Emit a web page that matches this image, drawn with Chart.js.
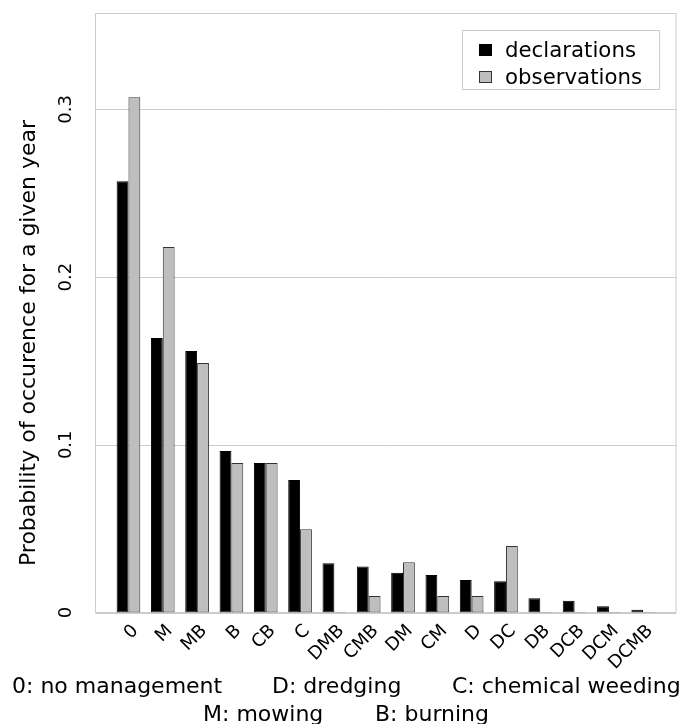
<!DOCTYPE html>
<html>
<head>
<meta charset="utf-8">
<script src="https://cdn.jsdelivr.net/npm/chart.js@4.4.1/dist/chart.umd.min.js"></script>
<style>
html, body { margin: 0; padding: 0; background: #fff; }
</style>
</head>
<body>
<canvas id="myChart" width="682" height="724"></canvas>
<script>
const categories = ['0', 'M', 'MB', 'B', 'CB', 'C', 'DMB', 'CMB', 'DM', 'CM', 'D', 'DC', 'DB', 'DCB', 'DCM', 'DCMB'];
const declarations = [0.2571, 0.1637, 0.1559, 0.0963, 0.0892, 0.0790, 0.0293, 0.0275, 0.0237, 0.0224, 0.0194, 0.0186, 0.0085, 0.0070, 0.0037, 0.0017];
const observations = [0.3072, 0.2180, 0.1488, 0.0892, 0.0892, 0.0496, 0.0003, 0.0098, 0.0299, 0.0098, 0.0098, 0.0397, 0.0003, 0.0003, 0.0003, 0.0003];
const seriesNames = ['declarations', 'observations'];
const yTicks = [0, 0.1, 0.2, 0.3];
const yTickLabels = ['0', '0.1', '0.2', '0.3'];
const yTitle = 'Probability of occurence for a given year';
const captionLine1 = ['0: no management', 'D: dredging', 'C: chemical weeding'];
const captionLine2 = ['M: mowing', 'B: burning'];

const FONT = 'DejaVu Sans';

// frame + horizontal grid behind the bars
const framePlugin = {
    id: 'frame',
    beforeDatasetsDraw(chart) {
        const ctx = chart.ctx;
        const y = chart.scales.y;
        const L = 95.5, R = 676, T = 13.5, B = 612.5;
        ctx.save();
        ctx.strokeStyle = '#cccccc';
        ctx.lineWidth = 1;
        yTicks.forEach(v => {
            const py = Math.round(y.getPixelForValue(v)) + 0.5;
            ctx.beginPath();
            ctx.moveTo(L, py);
            ctx.lineTo(R, py);
            ctx.stroke();
        });
        ctx.strokeRect(L, T, R - L, B - T);
        ctx.restore();
    },
    afterDraw(chart) {
        const ctx = chart.ctx;
        const y = chart.scales.y;
        ctx.save();
        ctx.fillStyle = '#000';

        // rotated y tick labels
        ctx.font = '18px "' + FONT + '"';
        ctx.textAlign = 'center';
        ctx.textBaseline = 'middle';
        yTicks.forEach((v, i) => {
            ctx.save();
            ctx.translate(66, y.getPixelForValue(v));
            ctx.rotate(-Math.PI / 2);
            ctx.fillText(yTickLabels[i], 0, 0);
            ctx.restore();
        });

        // y title
        ctx.font = '22px "' + FONT + '"';
        ctx.save();
        ctx.translate(29, 343);
        ctx.rotate(-Math.PI / 2);
        ctx.fillText(yTitle, 0, 0);
        ctx.restore();

        // legend
        const lx = 462.5, ly = 30.5, lw = 197, lh = 59;
        ctx.fillStyle = '#fff';
        ctx.fillRect(lx, ly, lw, lh);
        ctx.strokeStyle = '#cccccc';
        ctx.lineWidth = 1;
        ctx.strokeRect(lx, ly, lw, lh);
        ctx.font = '21.3px "' + FONT + '"';
        ctx.textAlign = 'left';
        chart.data.datasets.forEach((ds, i) => {
            const cy = 50 + i * 27;
            ctx.fillStyle = ds.backgroundColor;
            ctx.fillRect(479.5, cy - 5.5, 12, 11);
            ctx.strokeStyle = ds.borderColor;
            ctx.strokeRect(479.5, cy - 5.5, 12, 11);
            ctx.fillStyle = '#000';
            ctx.fillText(ds.label, 505, cy + 1);
        });

        // caption under the axis
        ctx.font = '22px "' + FONT + '"';
        ctx.textBaseline = 'alphabetic';
        const x1 = [12, 272, 452];
        captionLine1.forEach((t, i) => ctx.fillText(t, x1[i], 693));
        const x2 = [203, 375];
        captionLine2.forEach((t, i) => ctx.fillText(t, x2[i], 721));
        ctx.restore();
    }
};

const ctx = document.getElementById('myChart').getContext('2d');
const myChart = new Chart(ctx, {
    type: 'bar',
    data: {
        labels: categories,
        datasets: [{
            label: seriesNames[0],
            data: declarations,
            backgroundColor: '#000000',
            borderColor: '#000000',
            borderWidth: 1,
            borderSkipped: false
        }, {
            label: seriesNames[1],
            data: observations,
            backgroundColor: '#bebebe',
            borderColor: '#333333',
            borderWidth: 1,
            borderSkipped: false
        }]
    },
    options: {
        responsive: false,
        animation: false,
        layout: {
            padding: { left: 111.3, right: 21.6, top: 13, bottom: 0 }
        },
        datasets: {
            bar: { categoryPercentage: 0.69, barPercentage: 1.0 }
        },
        plugins: {
            legend: { display: false },
            tooltip: { enabled: false }
        },
        scales: {
            x: {
                grid: { display: false, drawTicks: false },
                border: { display: false },
                ticks: {
                    autoSkip: false,
                    minRotation: 45,
                    maxRotation: 45,
                    padding: 8,
                    labelOffset: 7,
                    color: '#000',
                    font: { family: FONT, size: 18 }
                },
                afterFit(scale) { scale.height = 111.5; }
            },
            y: {
                display: false,
                min: 0,
                max: 0.3575,
                ticks: { stepSize: 0.1, includeBounds: false }
            }
        }
    },
    plugins: [framePlugin]
});
</script>
</body>
</html>
